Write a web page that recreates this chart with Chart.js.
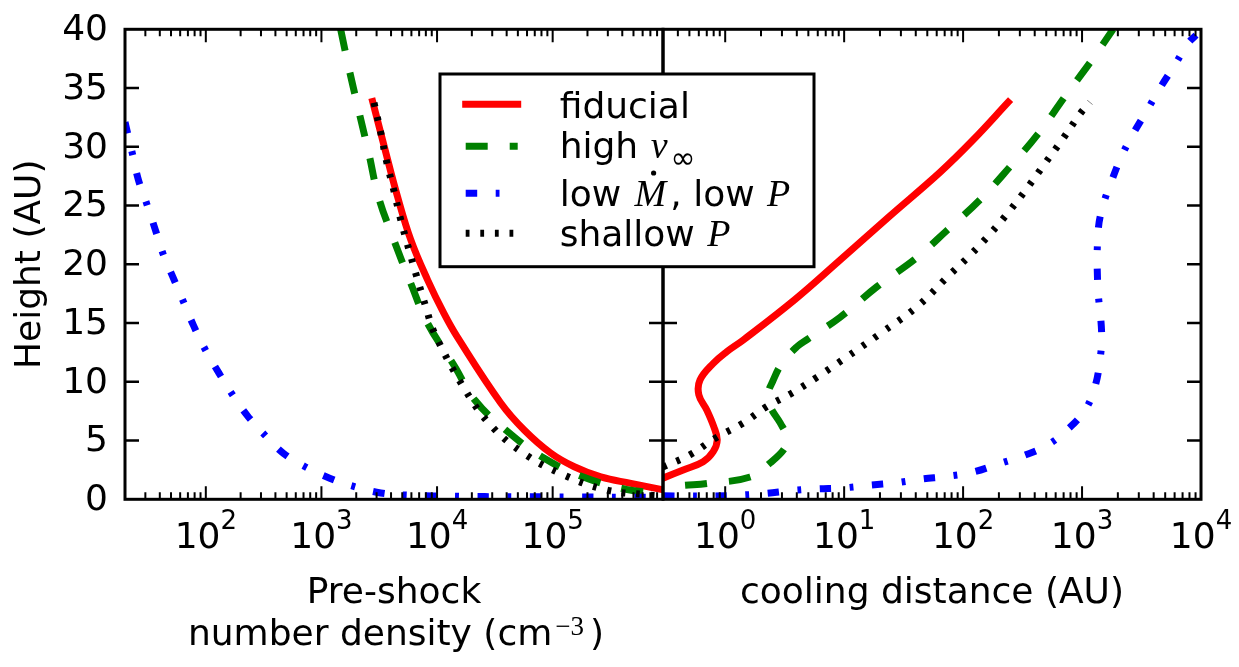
<!DOCTYPE html>
<html>
<head>
<meta charset="utf-8">
<script src="https://cdn.jsdelivr.net/npm/chart.js@4.4.1/dist/chart.umd.min.js"></script>
<style>
  html, body { margin: 0; padding: 0; background: #fff; }
  canvas { display: block; }
</style>
</head>
<body>
<canvas id="chart" width="1239" height="667"></canvas>
<script>
// ==== data ====
// left panel: pre-shock number density (cm^-3) against height (AU)
const fidDensity = [2774, 3500, 4540, 5920, 8260, 11500, 15000, 35560, 56700, 96000, 153800, 261000, 475000, 863000];
const fidDensityH = [33.85, 30.0, 25.8, 22.1, 18.7, 15.8, 13.8, 8.2, 5.9, 3.94, 2.77, 1.9, 1.36, 0.85];
const highVDensity = [1466, 1718, 2098, 2560, 3124, 4217, 5917, 8260, 14220, 21200, 39900, 81800, 181600, 430700, 783000];
const highVDensityH = [40.0, 36.8, 33.1, 29.5, 25.7, 22.1, 18.4, 15.0, 11.3, 8.45, 5.84, 3.57, 1.92, 0.85, 0.56];
const lowMDensity = [20, 23.2, 26.1, 30.7, 36.7, 43, 52.5, 64.1, 78.2, 99.4, 128.8, 170, 229.5, 328.6, 470.6, 729, 1178, 1977, 3258, 5360, 15400, 43500, 125000, 367000, 900000];
const lowMDensityH = [32.1, 29.4, 27.2, 25.2, 22.9, 20.8, 18.8, 16.8, 14.8, 12.7, 10.8, 8.9, 7.1, 5.4, 3.9, 2.75, 1.8, 1.05, 0.54, 0.36, 0.25, 0.22, 0.2, 0.18, 0.16];
const shallowDensity = [2850, 3260, 3670, 4250, 4850, 5730, 6670, 7980, 9550, 17030, 29170, 56360, 122700, 289000, 682000, 850000];
const shallowDensityH = [33.75, 31.2, 28.7, 26.2, 23.8, 21.2, 18.95, 16.4, 14.1, 9.5, 6.3, 3.9, 2.1, 0.8, 0.37, 0.3];

// right panel: cooling distance (AU) against height (AU)
const fidCooling = [0.3, 0.444, 0.653, 0.793, 0.857, 0.80, 0.70, 0.60, 0.614, 0.794, 1.03, 1.42, 3.86, 8.88, 23.5, 64.2, 121.7, 239.5];
const fidCoolingH = [1.8, 2.5, 3.2, 4.05, 5.05, 6.2, 7.6, 8.9, 10.15, 11.57, 12.56, 13.56, 17.0, 20.2, 24.0, 27.85, 30.6, 33.8];
const highVCooling = [0.46, 0.706, 1.62, 2.39, 3.19, 3.3, 2.9, 2.39, 2.3, 2.5, 3.01, 4.03, 4.89, 9.26, 18.9, 41.1, 73.4, 139, 248, 427, 720, 1213, 1823];
const highVCoolingH = [1.2, 1.35, 1.9, 3.1, 4.4, 5.3, 6.5, 7.9, 9.0, 10.0, 11.6, 13.0, 13.6, 15.5, 18.1, 20.6, 22.9, 25.5, 28.3, 31.1, 34.3, 37.4, 40.0];
const lowMCooling = [0.3, 0.48, 0.78, 1.29, 2.17, 3.66, 5.93, 9.81, 16.5, 26.8, 45.2, 73.4, 119, 197, 319, 508, 748, 1060, 1285, 1416, 1462, 1352, 1368, 1501, 1787, 2169, 2683, 3518, 4522, 6050, 7780, 9080];
const lowMCoolingH = [0.3, 0.28, 0.28, 0.35, 0.5, 0.75, 0.88, 0.97, 1.2, 1.4, 1.73, 1.95, 2.3, 3.0, 3.7, 4.6, 5.9, 7.6, 9.6, 11.9, 14.1, 18.4, 22.9, 25.0, 27.2, 29.3, 31.1, 33.1, 35.0, 37.0, 38.8, 39.5];
const shallowCooling = [0.3, 0.508, 0.824, 1.42, 2.25, 3.73, 5.93, 9.81, 20.1, 41.1, 73.4, 115, 169, 248, 352, 489, 692, 962, 1167];
const shallowCoolingH = [2.75, 3.8, 5.2, 6.5, 7.9, 9.1, 10.4, 11.9, 14.1, 16.4, 18.9, 20.8, 22.6, 24.6, 26.6, 28.6, 30.7, 32.8, 33.8];

// ticks
const heightTicks = [0, 5, 10, 15, 20, 25, 30, 35, 40];
const densityTicks = [1e2, 1e3, 1e4, 1e5];
const densityTickExp = ['2', '3', '4', '5'];
const coolingTicks = [1, 10, 100, 1000, 10000];
const coolingTickExp = ['0', '1', '2', '3', '4'];

const SANS = '"DejaVu Sans", sans-serif';
const SERIF = '"Liberation Serif", "DejaVu Serif", serif';

function pts(xs, ys) { return xs.map((x, i) => ({ x, y: ys[i] })); }

const styles = {
    fid:     { borderColor: '#ff0000', borderDash: [], borderCapStyle: 'square', order: 4 },
    highV:   { borderColor: '#008000', borderDash: [22, 22], borderCapStyle: 'butt', order: 3 },
    lowM:    { borderColor: '#0000ff', borderDash: [11.5, 18.5, 3.8, 18.5], borderCapStyle: 'butt', order: 2 },
    shallow: { borderColor: '#000000', borderDash: [3.8, 10.8], borderCapStyle: 'butt', order: 1 }
};

function ds(key, label, xs, ys, axis) {
    return Object.assign({
        label, data: pts(xs, ys), xAxisID: axis, yAxisID: 'y',
        borderWidth: 7, pointRadius: 0, fill: false, tension: 0.4, borderJoinStyle: 'round'
    }, styles[key]);
}

const datasets = [
    ds('fid', 'fiducial', fidDensity, fidDensityH, 'xL'),
    ds('highV', 'high v', highVDensity, highVDensityH, 'xL'),
    ds('lowM', 'low M, low P', lowMDensity, lowMDensityH, 'xL'),
    ds('shallow', 'shallow P', shallowDensity, shallowDensityH, 'xL'),
    ds('fid', 'fiducial', fidCooling, fidCoolingH, 'xR'),
    ds('highV', 'high v', highVCooling, highVCoolingH, 'xR'),
    ds('lowM', 'low M, low P', lowMCooling, lowMCoolingH, 'xR'),
    ds('shallow', 'shallow P', shallowCooling, shallowCoolingH, 'xR')
];

// legend rows: pieces of text; 'r' plain, 'i' italic math, 'sub' subscript, 'mdot' M with a dot
const legendRows = [
    { key: 'fid', lineY: 104.3, base: 118.3, parts: [['fiducial', 'r']] },
    { key: 'highV', lineY: 146.3, base: 158.3, parts: [['high ', 'r'], ['v', 'i'], ['\u221E', 'sub']] },
    { key: 'lowM', lineY: 193.3, base: 206, parts: [['low ', 'r'], ['M', 'mdot'], [', low ', 'r'], ['P', 'i']] },
    { key: 'shallow', lineY: 233.3, base: 246, parts: [['shallow ', 'r'], ['P', 'i']] }
];

function drawPow(ctx, exp, cx, baseY) {
    ctx.font = '36px ' + SANS; const w1 = ctx.measureText('10').width;
    ctx.font = '26px ' + SANS; const w2 = ctx.measureText(exp).width;
    const x0 = cx - (w1 + w2) / 2;
    ctx.font = '36px ' + SANS; ctx.fillText('10', x0, baseY);
    ctx.font = '26px ' + SANS; ctx.fillText(exp, x0 + w1, baseY - 19);
}

const frame = {
    id: 'frame',
    afterDatasetsDraw(chart) {
        const { ctx, chartArea: a, scales } = chart;
        const xl = scales.xL, xr = scales.xR, y = scales.y;
        ctx.save();
        ctx.strokeStyle = '#000'; ctx.fillStyle = '#000';

        // log ticks top and bottom, inward
        ctx.lineWidth = 2; ctx.setLineDash([]); ctx.beginPath();
        [xl, xr].forEach(s => {
            const lo = Math.floor(Math.log10(s.min)), hi = Math.ceil(Math.log10(s.max));
            for (let d = lo; d <= hi; d++) for (let m = 1; m <= 9; m++) {
                const v = m * Math.pow(10, d);
                if (v <= s.min * 1.0001 || v >= s.max * 0.9999) continue;
                const px = s.getPixelForValue(v), len = m === 1 ? 13 : 7;
                ctx.moveTo(px, a.bottom); ctx.lineTo(px, a.bottom - len);
                ctx.moveTo(px, a.top); ctx.lineTo(px, a.top + len);
            }
        });
        ctx.stroke();

        // height ticks on both sides of each panel
        ctx.lineWidth = 2.5; ctx.beginPath();
        heightTicks.forEach(t => {
            if (t === 0 || t === 40) return;
            const py = y.getPixelForValue(t);
            [xl, xr].forEach(s => {
                ctx.moveTo(s.left, py); ctx.lineTo(s.left + 14, py);
                ctx.moveTo(s.right, py); ctx.lineTo(s.right - 14, py);
            });
        });
        ctx.stroke();

        // spines
        ctx.lineWidth = 3;
        ctx.strokeRect(xl.left, a.top, xl.right - xl.left, a.bottom - a.top);
        ctx.strokeRect(xr.left, a.top, xr.right - xr.left, a.bottom - a.top);

        // tick labels
        ctx.textBaseline = 'alphabetic';
        ctx.font = '36px ' + SANS; ctx.textAlign = 'right';
        heightTicks.forEach(t => ctx.fillText(String(t), a.left - 17, y.getPixelForValue(t) + 10.7));
        ctx.textAlign = 'left';
        densityTicks.forEach((v, i) => drawPow(ctx, densityTickExp[i], xl.getPixelForValue(v), a.bottom + 49));
        coolingTicks.forEach((v, i) => drawPow(ctx, coolingTickExp[i], xr.getPixelForValue(v), a.bottom + 49));

        // axis titles
        ctx.font = '36px ' + SANS; ctx.textAlign = 'center';
        const cl = (xl.left + xl.right) / 2, cr = (xr.left + xr.right) / 2;
        ctx.fillText('Pre-shock', cl, 602.7);
        ctx.fillText('cooling distance (AU)', cr, 603.3);
        // second line with superscript
        ctx.textAlign = 'left';
        const t1 = 'number density (cm';
        const w1 = ctx.measureText(t1).width;
        ctx.font = '27px ' + SERIF; const w2 = ctx.measureText('\u22123').width;
        ctx.font = '36px ' + SANS; const w3 = ctx.measureText(')').width;
        const x0 = cl + 2 - (w1 + 3 + w2 + 6 + w3) / 2;
        ctx.fillText(t1, x0, 645);
        ctx.font = '27px ' + SERIF; ctx.fillText('\u22123', x0 + w1 + 3, 635);
        ctx.font = '36px ' + SANS; ctx.fillText(')', x0 + w1 + 3 + w2 + 6, 645);

        ctx.save();
        ctx.translate(40, (a.top + a.bottom) / 2);
        ctx.rotate(-Math.PI / 2);
        ctx.textAlign = 'center';
        ctx.fillText('Height (AU)', 0, 0);
        ctx.restore();

        // legend
        ctx.fillStyle = '#fff';
        ctx.fillRect(440, 74, 374, 192.7);
        ctx.lineWidth = 3; ctx.strokeStyle = '#000';
        ctx.strokeRect(440, 74, 374, 192.7);
        legendRows.forEach(row => {
            const st = styles[row.key];
            ctx.save();
            ctx.strokeStyle = st.borderColor; ctx.lineWidth = 7;
            ctx.lineCap = st.borderCapStyle; ctx.setLineDash(st.borderDash);
            ctx.beginPath(); ctx.moveTo(465.7, row.lineY); ctx.lineTo(517.7, row.lineY); ctx.stroke();
            ctx.restore();
            ctx.fillStyle = '#000'; ctx.textAlign = 'left';
            let x = 559.7;
            row.parts.forEach(([txt, kind]) => {
                if (kind === 'r') {
                    ctx.font = '36px ' + SANS; ctx.fillText(txt, x, row.base);
                    x += ctx.measureText(txt).width;
                } else if (kind === 'i') {
                    ctx.font = 'italic 38px ' + SERIF; ctx.fillText(txt, x + 1, row.base);
                    x += ctx.measureText(txt).width + 2;
                } else if (kind === 'sub') {
                    ctx.font = '30px ' + SANS; ctx.fillText(txt, x + 2, row.base + 10);
                    x += ctx.measureText(txt).width + 2;
                } else if (kind === 'mdot') {
                    ctx.font = 'italic 38px ' + SERIF; ctx.fillText(txt, x + 2, row.base);
                    const w = ctx.measureText(txt).width;
                    ctx.beginPath(); ctx.arc(x + 2 + w * 0.6, row.base - 33, 2.6, 0, Math.PI * 2); ctx.fill();
                    x += w + 6;
                }
            });
        });
        ctx.restore();
    }
};

new Chart(document.getElementById('chart').getContext('2d'), {
    type: 'line',
    data: { datasets },
    options: {
        responsive: false, animation: false, devicePixelRatio: 1, events: [],
        layout: { padding: { left: 125, right: 38, top: 29.3, bottom: 167.7 } },
        plugins: { legend: { display: false }, tooltip: { enabled: false } },
        scales: {
            xL: { type: 'logarithmic', position: 'bottom', stack: 'panels', stackWeight: 1, min: 20, max: 9e5, display: false },
            xR: { type: 'logarithmic', position: 'bottom', stack: 'panels', stackWeight: 1, min: 0.3, max: 1e4, display: false },
            y: { type: 'linear', position: 'left', min: 0, max: 40, display: false }
        }
    },
    plugins: [frame]
});
</script>
</body>
</html>
